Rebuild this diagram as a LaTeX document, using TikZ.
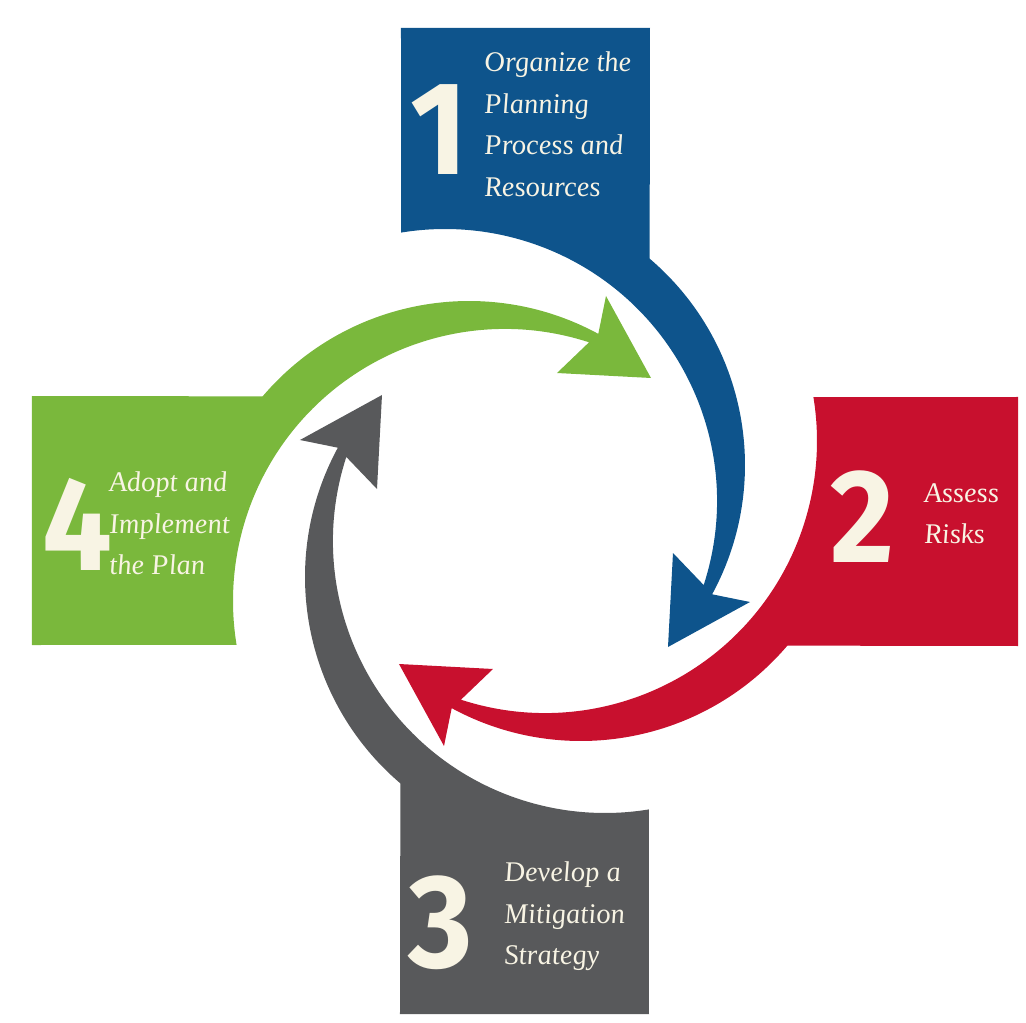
\documentclass[tikz,border=0pt]{standalone}
\usepackage{fontspec}
\setmainfont{Liberation Serif}[ItalicFeatures={FakeSlant=-0.1}]
\newfontfamily\digitfont{Fira Sans}[FakeStretch=0.93]

\definecolor{planblue}{RGB}{14,84,140}
\definecolor{riskred}{RGB}{200,16,46}
\definecolor{stratgray}{RGB}{88,89,91}
\definecolor{adoptgreen}{RGB}{122,184,60}
\definecolor{cream}{RGB}{248,244,228}

\begin{document}
\begin{tikzpicture}[x=1pt, y=1pt,
  steptext/.style={anchor=north west, inner sep=0pt, align=left, text=cream,
    font=\itshape\fontsize{28.5}{41.5}\selectfont},
  stepnum/.style={anchor=base west, inner sep=0pt, text=cream,
    font=\digitfont\bfseries\fontsize{133}{133}\selectfont}]

  \useasboundingbox (-525,-502) rectangle (501,521);

  % one arm (box + curved arrow), turned a quarter for each step
  \foreach \ang/\col in {0/planblue, -90/riskred, -180/stratgray, 90/adoptgreen}
    \fill[\col, rotate=\ang] (-124,493) -- (125,493)
      -- ([shift={(-51,56)}]49.6:271) arc[start angle=49.6, end angle=-28.5, radius=271]
      -- (225,-81) -- (143,-126) -- (148,-32)
      -- ([shift={(-80,20)}]-18:272) arc[start angle=-18, end angle=99.3, radius=272]
      -- cycle;

  \node[stepnum] (num1) at (-115,346) {1};
  \node[steptext] (txt1) at (-40,469) {Organize the\\Planning\\Process and\\Resources};

  \node[stepnum] (num2) at (305,-41) {2};
  \node[steptext] (txt2) at (400,38) {Assess\\Risks};

  \node[stepnum] (num3) at (-117,-446) {3};
  \node[steptext] (txt3) at (-20,-341) {Develop a\\Mitigation\\Strategy};

  \node[stepnum] (num4) at (-483,-49) {4};
  \node[steptext] (txt4) at (-415,49) {Adopt and\\Implement\\the Plan};

\end{tikzpicture}
\end{document}
